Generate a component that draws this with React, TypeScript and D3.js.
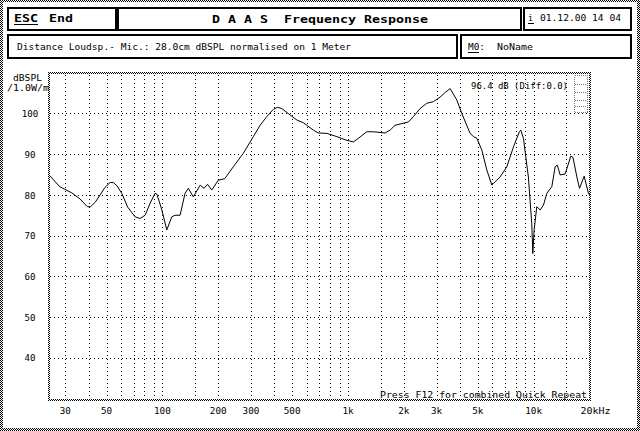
import React from "react";
import * as d3 from "d3";

const freqs = [24.5, 28, 32.5, 36, 39.4, 41, 43.5, 46.2, 49, 52.3, 54.5, 57, 60.4, 65, 71.3, 75.8, 80.7, 86, 91.3, 93.3, 96, 99.3, 105.6, 112.4, 117, 124.5, 132.5, 138, 146.9, 159.7, 167.7, 175, 184.6, 200, 217, 241, 273, 309, 336, 365, 396, 417, 440, 488, 530, 575, 651, 692, 769, 871, 985, 1069, 1138, 1262, 1371, 1585, 1686, 1794, 1950, 2115, 2250, 2445, 2658, 2886, 3135, 3350, 3550, 3857, 4103, 4548, 4742, 4945, 5260, 5597, 5955, 6070, 6600, 7173, 7790, 8380, 8530, 8810, 9370, 9770, 9900, 10060, 10400, 10840, 11300, 11780, 12530, 13060, 13430, 13890, 14780, 15860, 16300, 17100, 17670, 18720, 19730, 20000];
const spl = [84.9, 82, 80.5, 79, 77.1, 77.1, 78.2, 80, 81.8, 83.05, 83, 82.2, 80.4, 77, 74.6, 74.2, 75, 78, 80.4, 80.2, 78.5, 76.3, 71.4, 74.6, 75, 75, 80.4, 81.6, 79.5, 82.4, 81.6, 82.6, 81.2, 83.6, 84, 86.9, 90.2, 94.3, 97.1, 99.2, 101, 101.5, 101.2, 99.6, 98.4, 97.7, 95.9, 95.2, 95.1, 94.3, 93.4, 93.0, 93.9, 95.5, 95.5, 95.2, 95.9, 97.1, 97.5, 97.9, 99.2, 101.2, 102.5, 102.9, 104, 105.2, 106.1, 103.3, 100, 95.1, 94.3, 93.9, 91, 86.1, 82.4, 82.8, 84.4, 86.9, 91.8, 95.5, 95.9, 93.9, 84.4, 73, 65.6, 71.3, 77.1, 76.3, 77.5, 80.4, 82, 86.9, 87.3, 84.9, 85.1, 89.5, 89.2, 84.4, 81.6, 84.6, 80.4, 80];

const yTicks = [100, 90, 80, 70, 60, 50, 40];
const yGrid = [100, 90, 80, 70, 60, 50, 40];
const xGrid = [30, 40, 50, 60, 70, 80, 90, 100, 150, 200, 300, 400, 500, 600, 700, 800, 900, 1000, 1500, 2000, 3000, 4000, 5000, 6000, 7000, 8000, 9000, 10000, 15000];
const xTickValues = [30, 50, 100, 200, 300, 500, 1000, 2000, 3000, 5000, 10000, 20000];
const xTickText = ["30", "50", "100", "200", "300", "500", "1k", "2k", "3k", "5k", "10k", "20k"];

const FONT = "'DejaVu Sans Mono', monospace";

export default function App() {
  const x = d3.scaleLog().domain([24.5, 20000]).range([49, 589.5]);
  const y = d3.scaleLinear().domain([30, 110]).range([398.5, 72.7]);
  const pts: [number, number][] = freqs.map((f, i) => [f, spl[i]]);
  const line = d3
    .line<[number, number]>()
    .x((d) => x(d[0]))
    .y((d) => y(d[1]))
    .curve(d3.curveLinear);

  const px0 = 48, px1 = 591, py0 = 72, py1 = 401;

  const box = (bx: number, by: number, w: number, h: number) => (
    <rect x={bx + 1} y={by + 1} width={w - 2} height={h - 2} fill="white" stroke="black" strokeWidth={2} />
  );

  const txt = (s: string, tx: number, ty: number, len: number, opts: any = {}) => (
    <text
      x={tx}
      y={ty}
      textLength={len}
      lengthAdjust="spacingAndGlyphs"
      fontFamily={FONT}
      fontSize={opts.size || 9.5}
      fontWeight={opts.bold ? "bold" : "normal"}
      textAnchor={opts.anchor || "start"}
      fill="black"
      style={{ whiteSpace: "pre" }}
    >
      {s}
    </text>
  );

  return (
    <svg
      width={640}
      height={431}
      style={{ position: "absolute", left: 0, top: 0, background: "white" }}
      shapeRendering="crispEdges"
    >
      <defs>
        <pattern id="chk" patternUnits="userSpaceOnUse" width={2} height={2}>
          <rect x={0} y={0} width={2} height={2} fill="white" />
          <rect x={0} y={0} width={1} height={1} fill="black" />
          <rect x={1} y={1} width={1} height={1} fill="black" />
        </pattern>
      </defs>
      <rect x={0} y={0} width={640} height={431} fill="white" />
      {/* outer window border */}
      <rect x={0} y={0} width={3} height={431} fill="url(#chk)" />
      <rect x={0} y={0} width={640} height={2} fill="url(#chk)" />
      <rect x={637} y={0} width={3} height={431} fill="url(#chk)" />
      <rect x={0} y={428} width={640} height={3} fill="url(#chk)" />

      {/* header boxes */}
      {box(7, 7, 110, 24)}
      {box(117, 7, 405, 24)}
      {box(523, 7, 109, 24)}
      {box(7, 34, 451, 25)}
      {box(460, 34, 172, 25)}

      {txt("ESC", 14, 22, 24, { bold: true, size: 11 })}
      <line x1={14} x2={38} y1={24} y2={24} stroke="black" strokeWidth={1} />
      {txt("End", 49, 22, 24, { bold: true, size: 11 })}
      {txt("D A A S  Frequency Response", 212, 23, 216, { bold: true, size: 11 })}
      {txt("i", 528, 21, 5)}
      <line x1={528} x2={534} y1={23.5} y2={23.5} stroke="black" strokeWidth={1} />
      {txt("01.12.00 14 04", 540, 21, 81)}
      {txt("Distance Loudsp.- Mic.: 28.0cm dBSPL normalised on 1 Meter", 17, 50, 334)}
      {txt("M0:", 468, 50, 17)}
      <line x1={468} x2={479} y1={52.5} y2={52.5} stroke="black" strokeWidth={1} />
      {txt("NoName", 497, 50, 36)}

      {/* grid */}
      {yGrid.map((v) => (
        <line key={"gy" + v} x1={px0 + 2} x2={px1 - 2} y1={Math.round(y(v)) + 0.5} y2={Math.round(y(v)) + 0.5} stroke="black" strokeWidth={1} strokeDasharray="1,3" />
      ))}
      {xGrid.map((f) => (
        <line key={"gx" + f} x1={Math.round(x(f)) + 0.5} x2={Math.round(x(f)) + 0.5} y1={py0 + 3} y2={py1 - 2} stroke="black" strokeWidth={1} strokeDasharray="1,3" />
      ))}

      {/* plot frame */}
      <rect x={px0} y={py0} width={px1 - px0} height={2} fill="url(#chk)" />
      <rect x={px0} y={py1 - 2} width={px1 - px0} height={2} fill="url(#chk)" />
      <rect x={px0} y={py0} width={2} height={py1 - py0} fill="url(#chk)" />
      <rect x={px1 - 2} y={py0} width={2} height={py1 - py0} fill="url(#chk)" />

      {/* small indicator */}
      <rect x={574.5} y={75.5} width={13} height={37} fill="none" stroke="#777" strokeWidth={1} strokeDasharray="1,1" />
      {[84, 92, 100, 106].map((yy) => (
        <line key={"ind" + yy} x1={575} x2={587} y1={yy + 0.5} y2={yy + 0.5} stroke="#777" strokeWidth={1} strokeDasharray="1,1" />
      ))}

      {/* curve */}
      <path d={line(pts) || ""} fill="none" stroke="black" strokeWidth={1} shapeRendering="auto" />

      {txt("96.4 dB (Diff:0.0)", 471, 89, 97)}
      {txt("Press F12 for combined Quick Repeat", 380, 398, 207)}

      {/* y axis */}
      {txt("dBSPL", 13, 81, 29)}
      {txt("/1.0W/m", 7, 91, 42)}
      {yTicks.map((v) => (
        <text key={"yt" + v} x={30} y={y(v) + 3.7} textAnchor="middle" fontFamily={FONT} fontSize={9.5} textLength={v >= 100 ? 16.5 : 11} lengthAdjust="spacingAndGlyphs">
          {v}
        </text>
      ))}

      {/* x axis */}
      {xTickValues.map((f, i) =>
        i === xTickValues.length - 1 ? (
          <text key={"xt" + f} x={x(f) - 9} y={413.5} fontFamily={FONT} fontSize={9.5} textLength={30} lengthAdjust="spacingAndGlyphs">
            {xTickText[i] + "Hz"}
          </text>
        ) : (
          <text key={"xt" + f} x={x(f)} y={413.5} textAnchor="middle" fontFamily={FONT} fontSize={9.5} textLength={xTickText[i].length * 5.6} lengthAdjust="spacingAndGlyphs">
            {xTickText[i]}
          </text>
        )
      )}
    </svg>
  );
}
